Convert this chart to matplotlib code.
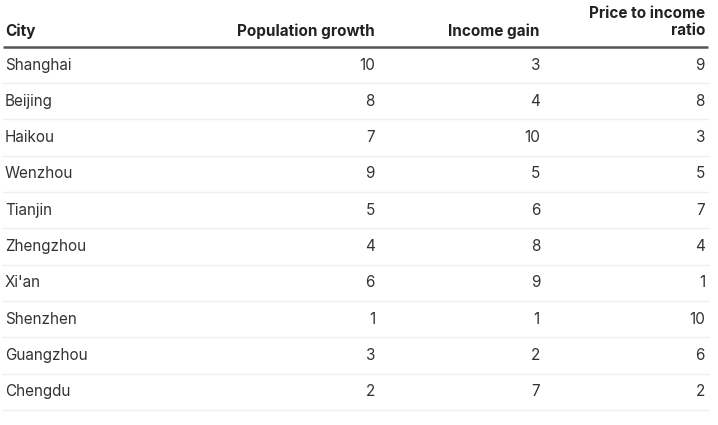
import matplotlib.pyplot as plt

plt.rcParams['font.family'] = ['Inter', 'DejaVu Sans']

# Data
cities = ['Shanghai', 'Beijing', 'Haikou', 'Wenzhou', 'Tianjin',
          'Zhengzhou', "Xi'an", 'Shenzhen', 'Guangzhou', 'Chengdu']
population_growth = [10, 8, 7, 9, 5, 4, 6, 1, 3, 2]
income_gain = [3, 4, 10, 5, 6, 8, 9, 1, 2, 7]
price_to_income = [9, 8, 3, 5, 7, 4, 1, 10, 6, 2]
headers = ['City', 'Population growth', 'Income gain', 'Price to income\nratio']

W, H = 718, 425
fig = plt.figure(figsize=(W / 100, H / 100), dpi=100)
ax = fig.add_axes([0, 0, 1, 1])
ax.set_xlim(0, W)
ax.set_ylim(H, 0)
ax.axis('off')

text_color = '#333333'
col_right = [375, 540, 705]
left = 5
row0 = 65
pitch = 36.3

# header
ax.text(left, 31, headers[0], ha='left', va='center', fontsize=11,
        fontweight='bold', color='#222222')
for xr, h in zip(col_right, headers[1:]):
    ax.text(xr, 22 if '\n' in h else 31, h, ha='right', va='center',
            fontsize=11, fontweight='bold', color='#222222', linespacing=1.2)
ax.plot([3, 708], [47, 47], color='#555555', lw=1.8, solid_capstyle='butt')

# rows
for i, city in enumerate(cities):
    y = row0 + i * pitch
    ax.text(left, y, city, ha='left', va='center', fontsize=11, color=text_color)
    vals = [population_growth[i], income_gain[i], price_to_income[i]]
    for xr, v in zip(col_right, vals):
        ax.text(xr, y, str(v), ha='right', va='center', fontsize=11, color=text_color)
    ax.plot([3, 708], [y + pitch / 2, y + pitch / 2], color='#efefef', lw=1)

fig.savefig('out.png', dpi=100, facecolor='white')
